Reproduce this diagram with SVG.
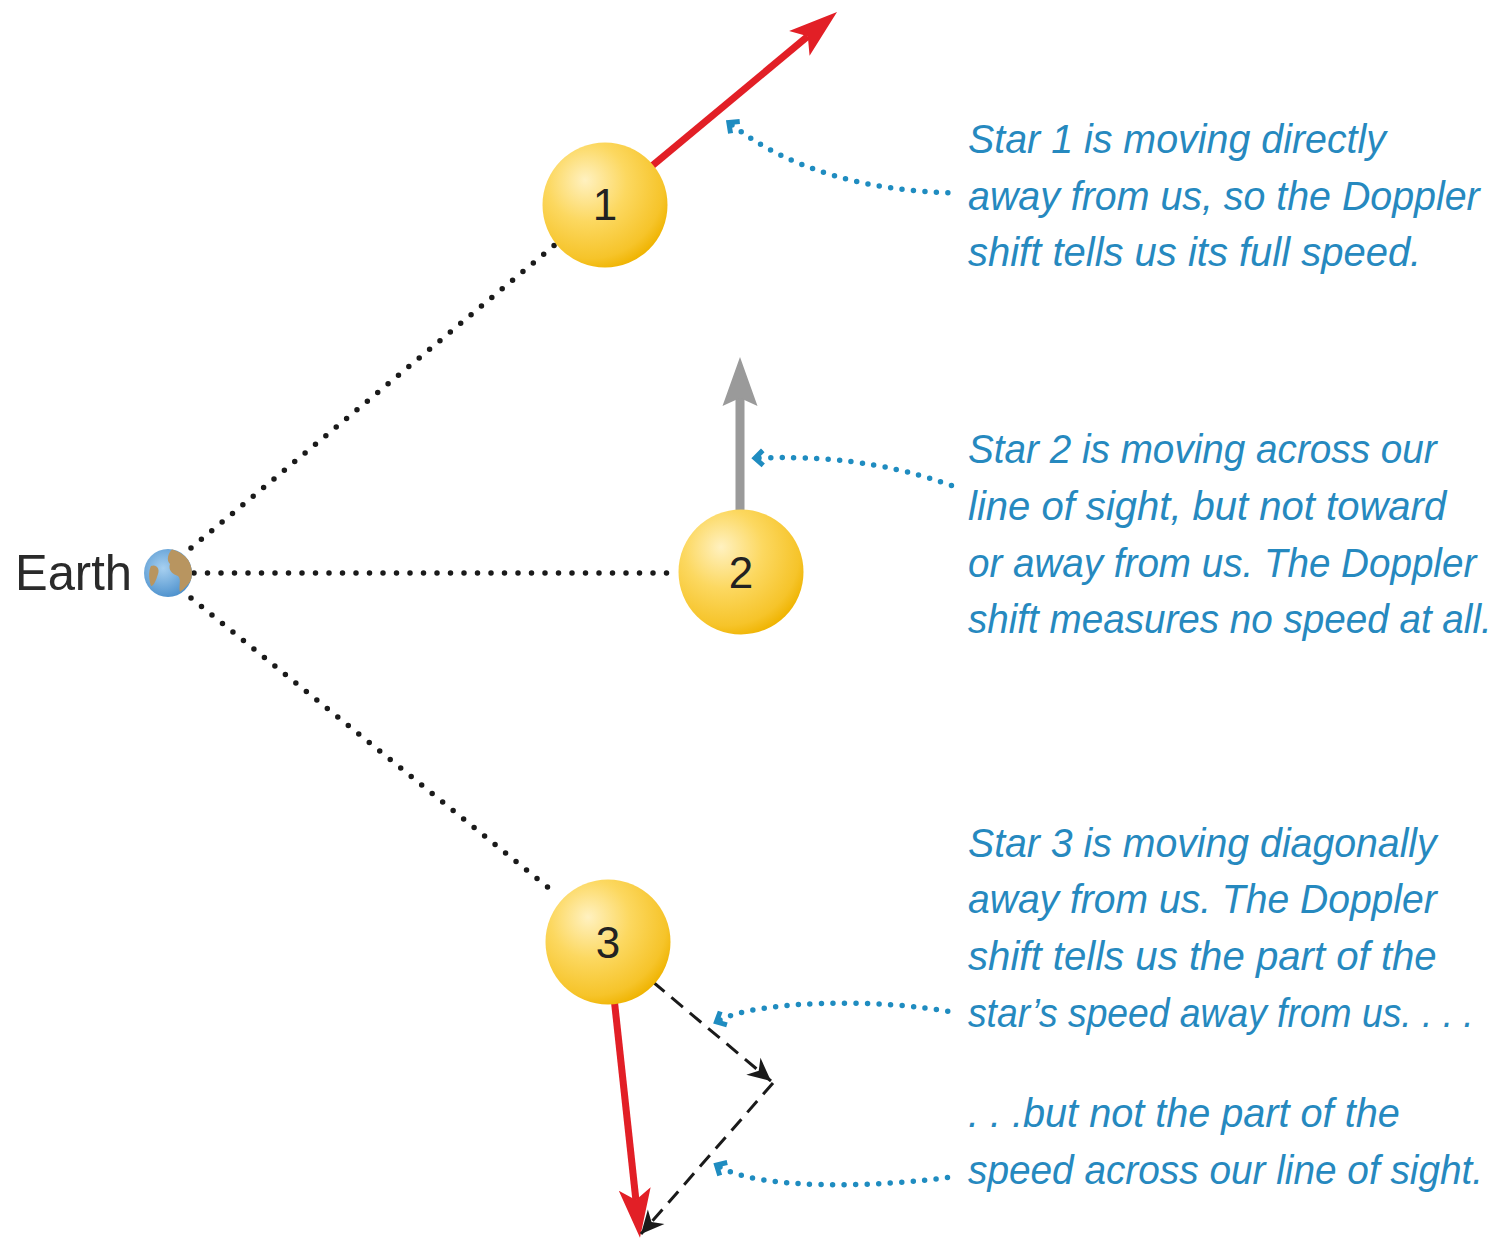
<svg xmlns="http://www.w3.org/2000/svg" width="1504" height="1239" viewBox="0 0 1504 1239">
  <defs>
    <style>
      .sight { fill: none; stroke: #1a1a1a; stroke-width: 5.5; stroke-linecap: round; stroke-dasharray: 0 13.5; }
      .callout { fill: none; stroke: #1f8cc0; stroke-width: 5.5; stroke-linecap: round; stroke-dasharray: 0 11.5; marker-start: url(#chevron); }
      .dash { fill: none; stroke: #1a1a1a; stroke-width: 3; stroke-dasharray: 15 9; marker-end: url(#blackHead); }
      .red { stroke: #e21f26; stroke-width: 7; fill: none; }
      .gray { stroke: #9a9a9a; stroke-width: 9; fill: none; }
      .note { font-family: "Liberation Sans", Arial, sans-serif; font-style: italic; font-size: 41px; fill: #2689bf; }
      .num { font-family: "Liberation Sans", Arial, sans-serif; font-size: 44px; fill: #222; text-anchor: middle; }
      .label { font-family: "Liberation Sans", Arial, sans-serif; font-size: 50px; fill: #2a2a2a; }
    </style>
    <radialGradient id="sun" cx="0.38" cy="0.34" r="0.7" fx="0.34" fy="0.3">
      <stop offset="0" stop-color="#fff1c0"/>
      <stop offset="0.45" stop-color="#fcd860"/>
      <stop offset="0.85" stop-color="#f6c42a"/>
      <stop offset="1" stop-color="#efb300"/>
    </radialGradient>
    <radialGradient id="sea" cx="0.4" cy="0.4" r="0.65">
      <stop offset="0" stop-color="#a7d0f0"/>
      <stop offset="1" stop-color="#4a8fcc"/>
    </radialGradient>
    <clipPath id="globeClip">
      <circle cx="168" cy="573" r="24"/>
    </clipPath>
    <marker id="redHead" markerUnits="userSpaceOnUse" viewBox="-2 -20 54 40" markerWidth="54" markerHeight="40" refX="11" refY="0" orient="auto">
      <path d="M0,-16 L49,0 L0,16 L11,0 Z" fill="#e21f26"/>
    </marker>
    <marker id="grayHead" markerUnits="userSpaceOnUse" viewBox="-2 -20 54 40" markerWidth="54" markerHeight="40" refX="10" refY="0" orient="auto">
      <path d="M0,-17.5 L49,0 L0,17.5 L8,0 Z" fill="#9a9a9a"/>
    </marker>
    <marker id="blackHead" markerUnits="userSpaceOnUse" viewBox="-2 -14 28 28" markerWidth="28" markerHeight="28" refX="23" refY="0" orient="auto">
      <path d="M0,-11 L23,0 L0,11 L7,0 Z" fill="#1a1a1a"/>
    </marker>
    <marker id="chevron" markerUnits="userSpaceOnUse" viewBox="-14 -14 28 28" markerWidth="28" markerHeight="28" refX="0" refY="0" orient="auto-start-reverse">
      <path d="M-4,-7.5 L4,0 L-4,7.5" fill="none" stroke="#1f8cc0" stroke-width="5"/>
    </marker>
  </defs>

  <rect width="1504" height="1239" fill="#ffffff"/>

  <!-- connectors: lines of sight, motion vectors, callout leaders -->
  <g id="connectors">
    <path class="sight" d="M191,548 L556,244"/>
    <path class="sight" d="M194,573 L676,573"/>
    <path class="sight" d="M191,598 L556,894"/>

    <path class="red" d="M605,205 L807.8,36.3" marker-end="url(#redHead)"/>
    <path class="gray" d="M740,572 L740,396" marker-end="url(#grayHead)"/>
    <path class="red" d="M608,942 L635.9,1200" marker-end="url(#redHead)"/>

    <path class="dash" d="M653,982 L771,1081"/>
    <path class="dash" d="M773,1083 L641,1234"/>

    <path class="callout" d="M732,125 C790,170 870,192 958,193"/>
    <path class="callout" d="M759,458 C850,455 910,470 958,488"/>
    <path class="callout" d="M720,1020 C760,1000 880,998 958,1013"/>
    <path class="callout" d="M720,1167 C760,1190 880,1188 958,1176"/>
  </g>

  <g id="earth">
    <text class="label" x="15" y="590" textLength="117" lengthAdjust="spacingAndGlyphs">Earth</text>
    <circle cx="168" cy="573" r="24" fill="url(#sea)"/>
    <g clip-path="url(#globeClip)" fill="#b89560">
      <path d="M172,549 C180,552 186,556 190,562 L194,576 C190,582 186,588 180,592 C178,586 182,580 178,576 C172,574 168,570 170,564 C166,560 168,554 172,549 Z"/>
      <path d="M151,566 C156,564 160,568 158,574 C156,580 154,586 151,586 C149,580 148,572 151,566 Z"/>
    </g>
  </g>

  <g id="star1">
    <circle cx="605" cy="205" r="62.5" fill="url(#sun)"/>
    <text class="num" x="605" y="220">1</text>
  </g>

  <g id="star2">
    <circle cx="741" cy="572" r="62.5" fill="url(#sun)"/>
    <text class="num" x="741" y="588">2</text>
  </g>

  <g id="star3">
    <circle cx="608" cy="942" r="62.5" fill="url(#sun)"/>
    <text class="num" x="608" y="958">3</text>
  </g>

  <!-- captions are set in a narrowed italic: scaled horizontally, then fitted per line -->
  <g id="note1" transform="translate(968 0) scale(0.86 1)">
    <text class="note" x="0" y="153" textLength="486" lengthAdjust="spacingAndGlyphs">Star 1 is moving directly</text>
    <text class="note" x="0" y="210" textLength="595" lengthAdjust="spacingAndGlyphs">away from us, so the Doppler</text>
    <text class="note" x="0" y="266" textLength="527" lengthAdjust="spacingAndGlyphs">shift tells us its full speed.</text>
  </g>

  <g id="note2" transform="translate(968 0) scale(0.86 1)">
    <text class="note" x="0" y="463" textLength="545" lengthAdjust="spacingAndGlyphs">Star 2 is moving across our</text>
    <text class="note" x="0" y="520" textLength="556" lengthAdjust="spacingAndGlyphs">line of sight, but not toward</text>
    <text class="note" x="0" y="577" textLength="591" lengthAdjust="spacingAndGlyphs">or away from us. The Doppler</text>
    <text class="note" x="0" y="633" textLength="609" lengthAdjust="spacingAndGlyphs">shift measures no speed at all.</text>
  </g>

  <g id="note3" transform="translate(968 0) scale(0.86 1)">
    <text class="note" x="0" y="857" textLength="545" lengthAdjust="spacingAndGlyphs">Star 3 is moving diagonally</text>
    <text class="note" x="0" y="913" textLength="545" lengthAdjust="spacingAndGlyphs">away from us. The Doppler</text>
    <text class="note" x="0" y="970" textLength="545" lengthAdjust="spacingAndGlyphs">shift tells us the part of the</text>
    <text class="note" x="0" y="1027" textLength="588" lengthAdjust="spacingAndGlyphs">star’s speed away from us. . . .</text>
  </g>

  <g id="note4" transform="translate(968 0) scale(0.86 1)">
    <text class="note" x="0" y="1127" textLength="502" lengthAdjust="spacingAndGlyphs">. . .but not the part of the</text>
    <text class="note" x="0" y="1184" textLength="599" lengthAdjust="spacingAndGlyphs">speed across our line of sight.</text>
  </g>
</svg>
